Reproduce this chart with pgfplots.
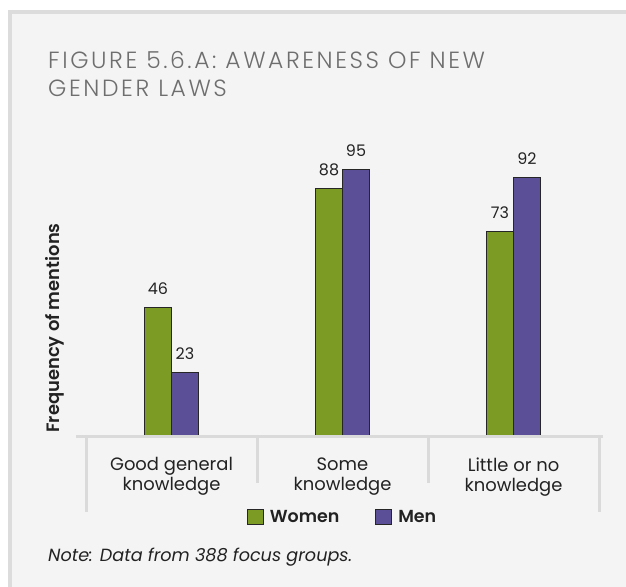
\documentclass[border=0pt]{standalone}
\usepackage{pgfplots}
\pgfplotsset{compat=1.18}
\usepackage{fontspec}
\setmainfont{Poppins}
\newfontfamily\titlefont[LetterSpace=11]{Poppins Light}
\newfontfamily\semib{Poppins SemiBold}
\definecolor{panel}{HTML}{F4F4F4}
\definecolor{border}{HTML}{DCDCDC}
\definecolor{axgray}{HTML}{DADADA}
\definecolor{wgreen}{HTML}{7B9B24}
\definecolor{mpurple}{HTML}{5B4F98}
\definecolor{titlegray}{HTML}{6E6E6E}
\definecolor{txt}{HTML}{222222}
\begin{document}
\begin{tikzpicture}[x=1bp,y=1bp]
\fill[white] (0,0) rectangle (626,587);
\fill[panel] (8,0) rectangle (626,577);
\fill[border] (8,0) rectangle (12,577);
\fill[border] (8,573) rectangle (626,577);
\node[anchor=base west, align=left, inner sep=0pt, text=titlegray,
      font=\titlefont\fontsize{23.5}{29}\selectfont] at (48,490)
  {FIGURE 5.6.A: AWARENESS OF NEW\\GENDER LAWS};
\node[anchor=base west, inner sep=0pt, text=txt,
      font=\itshape\fontsize{17.7}{20}\selectfont] at (48,25)
  {Note: Data from 388 focus groups.};
\begin{axis}[
  at={(76bp,150bp)}, anchor=south west,
  x=171bp, y=2.82bp,
  xmin=-0.5585, xmax=2.5234, ymin=0, ymax=100,
  clip=false,
  axis line style={draw=none},
  ytick=\empty,
  xtick={0,1,2},
  xticklabels={{Good general\\knowledge},{Some\\knowledge},{Little or no\\knowledge}},
  major tick length=0pt,
  xticklabel style={align=center, text=txt, font=\fontsize{18}{20}\selectfont, yshift=-17bp},
  /pgf/number format/assume math mode=true,
  ybar=0pt, bar width=27bp,
  ylabel={Frequency of mentions},
  ylabel style={at={(axis description cs:-0.0394,0.3865)}, anchor=center, rotate=0,
    font=\semib\fontsize{18}{20}\selectfont, text=txt},
  nodes near coords,
  nodes near coords style={font=\fontsize{16}{18}\selectfont, text=txt, yshift=9bp},
  legend columns=2,
  legend style={at={(axis cs:1,-28.4)}, anchor=center, draw=none, fill=none,
    font=\semib\fontsize{17.5}{20}\selectfont, text=txt,
    /tikz/every odd column/.append style={column sep=4bp},
    /tikz/every even column/.append style={column sep=34bp}},
  every axis plot post/.append style={
    legend image code/.code={\draw[##1, draw=black!85, line width=1bp] (0bp,-7.5bp) rectangle (16bp,7.5bp);}},
]
\addplot[fill=wgreen, draw=black!85, line width=1bp] coordinates {(0,46) (1,88) (2,73)};
\addplot[fill=mpurple, draw=black!85, line width=1bp] coordinates {(0,23) (1,95) (2,92)};
\legend{Women, Men}
\draw[axgray, line width=3bp] (axis cs:-0.5585,0) -- (axis cs:2.5234,0);
\draw[axgray, line width=3bp] (axis cs:-0.5,0) -- (axis cs:-0.5,-26.6);
\draw[axgray, line width=3bp] (axis cs:2.5,0) -- (axis cs:2.5,-26.6);
\draw[axgray, line width=3bp] (axis cs:0.5,0) -- (axis cs:0.5,-16.3);
\draw[axgray, line width=3bp] (axis cs:1.5,0) -- (axis cs:1.5,-16.3);
\end{axis}
\pgfresetboundingbox
\useasboundingbox (0,0) rectangle (626,587);
\end{tikzpicture}
\end{document}
